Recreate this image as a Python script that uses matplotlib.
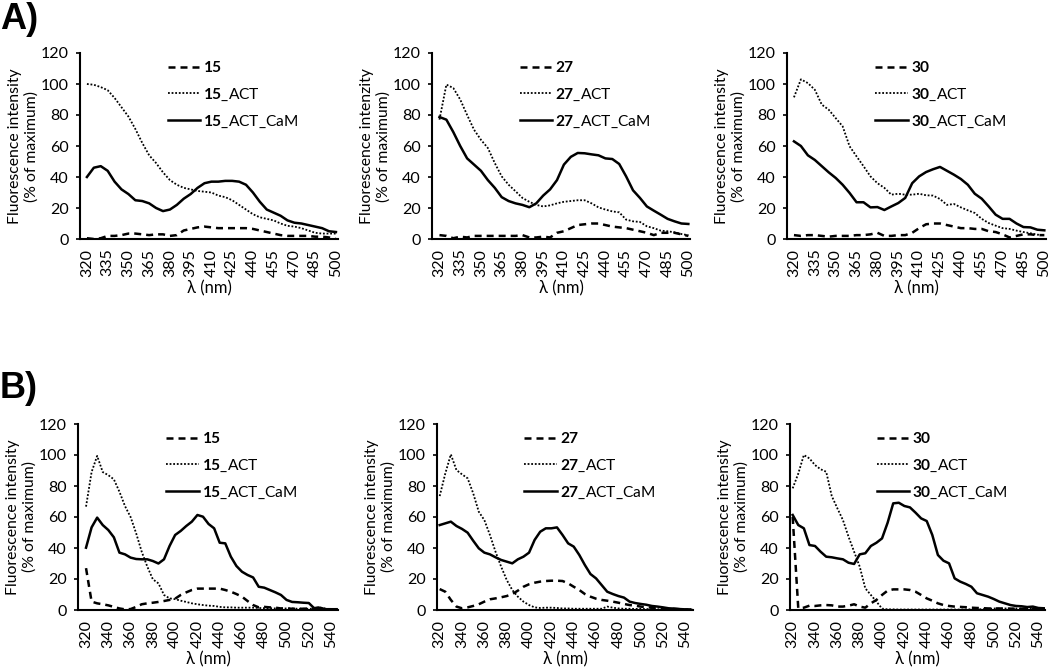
import matplotlib
matplotlib.use('Agg')
import matplotlib.pyplot as plt

plt.rcParams['font.family'] = ['Lato', 'DejaVu Sans']
plt.rcParams['mathtext.fontset'] = 'custom'
plt.rcParams['mathtext.rm'] = 'Lato'
plt.rcParams['mathtext.bf'] = 'Lato:bold'

# ---------------- data ----------------
wl_A = list(range(320, 505, 5))          # 320..500 nm
wl_B = list(range(320, 550, 5))          # 320..545 nm
ticks_A = list(range(320, 505, 15))
ticks_B = list(range(320, 545, 20))
yticks = [0, 20, 40, 60, 80, 100, 120]

A15 = [0.5, 0, 0.5, 2, 2, 2.5, 3.5, 3.5, 3, 2.5, 3, 3, 2, 2.5, 5.5, 6.5, 7.5, 8, 7.5, 7,
       7, 7, 7, 7, 6.5, 5.5, 4.5, 3.5, 2.5, 2, 2, 2, 2, 1.5, 1.5, 1, 0]
A15_ACT = [100, 99.5, 98, 96, 91, 85, 79, 71, 62, 54, 49, 43, 38, 35, 33, 32, 31, 30.5, 30, 28,
           27, 25, 22, 19, 16, 14, 13, 12, 10, 8.5, 8, 7, 5.5, 4, 3.5, 3.5, 3.5]
A15_ACT_CaM = [40, 46, 47, 44, 37, 32, 29, 25, 24.5, 23, 20, 18, 19, 22, 26, 29, 33, 36, 37, 37,
               37.5, 37.5, 37, 35, 30, 24, 19, 17, 15, 12, 10.5, 10, 9, 8, 7, 5, 4.5]

A27 = [2.5, 2, 0.5, 1.5, 1, 2, 2, 2, 2, 2, 2, 2, 2.5, 1, 1, 1.5, 1, 4, 5, 7,
       9, 9.5, 10, 10, 9, 8, 7.5, 7, 6, 5, 4, 2.5, 4, 4, 4, 3, 2]
A27_ACT = [77, 99.6, 97.4, 90, 80, 70.5, 64, 58.7, 49, 40.4, 35, 30.8, 26.5, 24, 22, 21, 21.7, 23, 24, 24.5,
           25, 25, 23, 20.4, 19, 17.8, 17.2, 12.5, 11.4, 11, 8.2, 7, 5.4, 5, 4.3, 3.2, 2.4]
A27_ACT_CaM = [78.7, 77, 69, 60, 52, 48, 44, 38, 33, 27, 24.5, 23, 22, 20.5, 23, 28, 32, 38, 48, 53,
               55.5, 55.3, 54.6, 54, 52, 51.6, 48.4, 40.4, 31.4, 26.5, 21, 18.3, 15.7, 13, 11.4, 10, 9.7]

A30 = [2.5, 2, 2.5, 2.5, 2, 1.5, 2, 2, 2, 2.5, 2.5, 3, 4, 2, 2, 2.5, 2.5, 4, 7, 9.5,
       10, 10, 9, 8, 7, 7, 6.5, 6.5, 5, 4.5, 3, 1, 2, 3, 3, 2.5, 2.5]
A30_ACT = [91.4, 103, 100.6, 96.3, 86.7, 83.4, 78, 72.7, 59.8, 53.3, 47, 40.4, 36, 33, 28.6, 29.2, 28.6, 28.6, 29.2, 28.2,
           28, 25.8, 22, 22.6, 20.4, 18.5, 16.8, 13, 10.3, 8.6, 7, 6.5, 5.4, 4.5, 3.7, 2.8, 2.4]
A30_ACT_CaM = [63, 60, 54, 51, 47, 43, 39.4, 35, 29.7, 23.7, 23.7, 20.4, 20.6, 18.7, 21, 23.2, 26.5, 36, 40.4, 43.2,
               45, 46.5, 44, 41.5, 38.7, 35, 29.2, 26, 21, 15.7, 13, 13, 10, 7.7, 7.5, 6, 5.6]

B15 = [27, 5.4, 4.3, 3.7, 3, 2, 1, 0.4, 0.6, 2, 3.7, 4.3, 4.7, 5.2, 5.8, 6.5, 7.3, 9.7, 11.4, 12.9,
       13.8, 13.8, 13.8, 13.8, 13.8, 12.9, 11.8, 10.3, 8.6, 5.8, 3.2, 1.7, 2, 1.7, 1.5, 1, 1, 0.8, 0.8, 0.8,
       1, 1.2, 1.7, 0.5, 0.5, 0.5]
B15_ACT = [66.7, 89, 99.4, 89, 87, 84.3, 76.3, 67, 60, 49.5, 37.6, 28, 19.8, 17.2, 9.7, 7.5, 7, 6, 5.2, 4.3,
           3.7, 3.2, 2.8, 2.6, 2, 1.7, 1.7, 1.5, 1.5, 1.5, 1.5, 1.3, 1.2, 1.2, 1, 1, 1, 1, 0.8, 0.8,
           0.8, 0.8, 1, 0.8, 0.6, 0.5]
B15_ACT_CaM = [40.2, 53.3, 59.6, 54.8, 51.6, 46.9, 37, 35.9, 33.8, 32.9, 32.7, 32.7, 31.6, 30, 32.7, 41.3, 48.4, 51, 54.2, 57,
               61.3, 60.2, 55.5, 52.7, 43.4, 43, 34.4, 28.4, 24.7, 22.6, 21, 15, 14.4, 12.9, 11.4, 9.7, 6.5, 5.2, 5, 4.7,
               4.5, 1, 1.5, 0.5, 0.5, 0.5]

B27 = [13.5, 11.8, 6.5, 2.2, 1.1, 1.7, 2.6, 3.7, 5.4, 6.9, 7.5, 8.2, 9, 10.3, 12.5, 15, 16.6, 17.6, 18.3, 18.7,
       18.9, 18.9, 18.7, 17.2, 15, 12.9, 10.3, 8.6, 7.3, 6.5, 6, 5.4, 4.7, 3.9, 3.2, 2.8, 2.2, 1.8, 1.5, 1.2,
       1, 0.8, 0.7, 0.5, 0.3, 0.2]
B27_ACT = [73.5, 88, 100.4, 90.3, 87.5, 85, 75.3, 63.4, 58, 48.4, 37.6, 28, 19.4, 12.9, 8.6, 5.4, 3.2, 1.7, 1.3, 1.5,
           1.5, 1.3, 1, 1, 0.8, 0.8, 0.8, 0.8, 0.8, 0.8, 2.2, 1.5, 1, 0.8, 0.8, 0.7, 0.7, 0.6, 0.6, 0.5,
           0.5, 0.5, 0.5, 0.5, 0.4, 0.3]
B27_ACT_CaM = [54.8, 55.9, 57, 54.2, 52.3, 49.9, 44.7, 39.8, 37, 35.9, 34, 32.3, 31.2, 30.1, 32.7, 34.4, 37, 45.2, 50.5, 52.7,
               52.7, 53.3, 48.4, 43, 40.9, 35.5, 29, 23.2, 20.4, 16.1, 11.8, 10.3, 9, 8, 5.4, 4.5, 3.9, 3.4, 2.6, 2.2,
               1.7, 1.1, 0.9, 0.6, 0.4, 0.2]

B30 = [60, 1.1, 1.5, 2.8, 2.6, 3, 3.2, 3, 2.2, 2.2, 2.8, 3.7, 2.2, 1.5, 4.3, 6.5, 9.7, 12.5, 13.3, 13.3,
       13.3, 12.9, 11.8, 9.7, 7.5, 6, 4.3, 3.2, 2.6, 2.2, 2, 1.8, 1.5, 1.3, 1.2, 1, 1, 1, 0.9, 0.9,
       0.8, 0.8, 0.8, 0.8, 0.8, 0.8]
B30_ACT = [78.5, 88, 100, 97.8, 93.5, 90.8, 89.2, 73.5, 65.6, 58, 47.3, 37.6, 28, 14, 9.7, 5.4, 0.9, 0.4, 0.4, 0.3,
           0.3, 0.3, 0.3, 0.3, 0.3, 0.3, 0.3, 0.3, 0.3, 0.3, 0.3, 0.3, 0.5, 0.5, 0.5, 0.8, 1, 0.8, 1, 0.8,
           1, 0.8, 1, 1, 0.8, 0.8]
B30_ACT_CaM = [61.3, 54.8, 52.7, 41.9, 41.3, 37.6, 34.4, 34, 33.3, 32.7, 30.5, 29.7, 35.9, 36.6, 41.3, 43.4, 46.2, 56.3, 68.8, 69.2,
               67.1, 66.2, 62.8, 59.1, 57.4, 48.4, 35.5, 31.8, 30.1, 20.4, 18.3, 16.8, 15, 10.8, 9.7, 8.6, 7.1, 5.4, 4.3, 3.2,
               2.6, 2.4, 1.9, 2.2, 1.3, 1.1]

# ---------------- layout ----------------
W, H = 1050, 669
fig = plt.figure(figsize=(W / 100, H / 100), dpi=100)

def frac_rect(left_px, top_px, right_px, bottom_px):
    return [left_px / W, 1 - bottom_px / H, (right_px - left_px) / W, (bottom_px - top_px) / H]

panels = [
    ((80, 53, 338, 239), (315, 501.5), wl_A, ticks_A, '15', (A15, A15_ACT, A15_ACT_CaM), 'Fluorescence intensity'),
    ((432, 53, 690, 239), (314.6, 501.2), wl_A, ticks_A, '27', (A27, A27_ACT, A27_ACT_CaM), 'Fluorescence intenzity'),
    ((787, 53, 1046, 239), (315, 501.2), wl_A, ticks_A, '30', (A30, A30_ACT, A30_ACT_CaM), 'Fluorescence intensity'),
    ((78, 424, 338, 610), (312.8, 546.2), wl_B, ticks_B, '15', (B15, B15_ACT, B15_ACT_CaM), 'Fluorescence intensity'),
    ((437, 424, 693, 610), (317.6, 546.8), wl_B, ticks_B, '27', (B27, B27_ACT, B27_ACT_CaM), 'Fluorescence intensity'),
    ((790, 424, 1045, 610), (317.6, 545.9), wl_B, ticks_B, '30', (B30, B30_ACT, B30_ACT_CaM), 'Fluorescence intensity'),
]

styles = [dict(ls=(0, (2.8, 2.0)), lw=1.8),
          dict(ls=(0, (1.0, 1.0)), lw=1.3),
          dict(ls='-', lw=1.8)]

for (l, t, r, b), xlim, x, xt, comp, data, ylab in panels:
    ax = fig.add_axes(frac_rect(l, t, r, b))
    labels = [r'$\mathbf{%s}$' % comp, r'$\mathbf{%s}$_ACT' % comp, r'$\mathbf{%s}$_ACT_CaM' % comp]
    for y, st, lab in zip(data, styles, labels):
        ax.plot(x, y, color='black', label=lab, **st)
    ax.set_xlim(*xlim)
    ax.set_ylim(0, 120)
    ax.set_yticks(yticks)
    ax.set_xticks(xt)
    ax.set_xticklabels([str(v) for v in xt], rotation=90)
    for s in ['top', 'right']:
        ax.spines[s].set_visible(False)
    for s in ['left', 'bottom']:
        ax.spines[s].set_linewidth(1.5)
    ax.tick_params(axis='y', direction='out', length=3, width=1.2, pad=5, labelsize=11.5)
    ax.tick_params(axis='x', length=0, pad=7, labelsize=11.5)
    ax.set_ylabel(ylab + '\n(% of maximum)', fontsize=11.3, va='center', linespacing=1.2)
    ax.yaxis.set_label_coords(-57 / (r - l), 0.5)
    ax.set_xlabel('λ (nm)', fontsize=12, va='center')
    ax.xaxis.set_label_coords(0.5, -49 / (b - t))
    ax.legend(loc='upper left', bbox_to_anchor=(0.34, 0.962), frameon=False,
              fontsize=11.2, handlelength=2.1, handletextpad=0.2, labelspacing=0.72,
              borderpad=0, borderaxespad=0)

fig.text(0.0, 1 - 2 / H, 'A)', fontsize=26, fontweight='bold', family='Liberation Sans',
         ha='left', va='top')
fig.text(0.0, 1 - 371 / H, 'B)', fontsize=26, fontweight='bold', family='Liberation Sans',
         ha='left', va='top')

fig.savefig('out.png', dpi=100)
